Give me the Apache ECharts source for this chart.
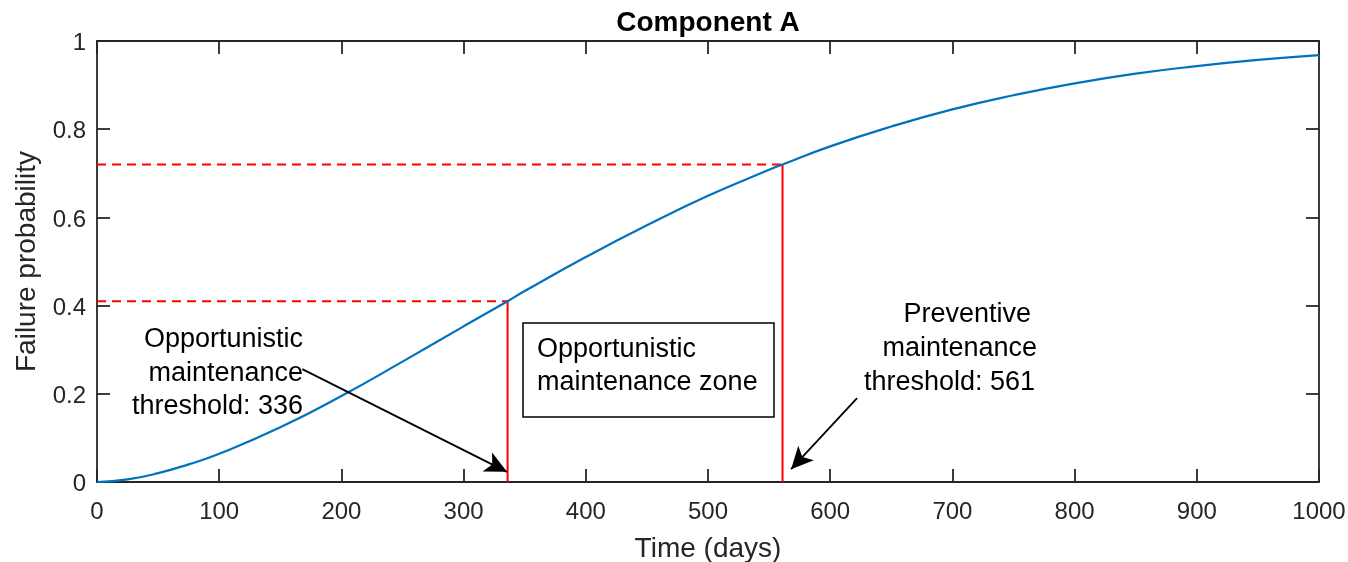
<!DOCTYPE html>
<html>
<head>
<meta charset="utf-8">
<script src="https://cdn.jsdelivr.net/npm/echarts@6/dist/echarts.min.js"></script>
<style>
  html, body { margin: 0; padding: 0; background: #fff; }
  #chart { width: 1348px; height: 562px; }
</style>
</head>
<body>
<div id="chart"></div>
<script>
// failure probability curve
const days = [0, 25, 50, 75, 100, 150, 200, 250, 300, 336, 350, 400, 450, 500, 550, 561, 600, 650, 700, 750, 800, 850, 900, 950, 1000];
const failureProb = [0, 0.006, 0.020, 0.040, 0.064, 0.124, 0.195, 0.273, 0.353, 0.41, 0.433, 0.510, 0.582, 0.649, 0.708, 0.72, 0.761, 0.806, 0.845, 0.877, 0.904, 0.926, 0.943, 0.957, 0.968];

// thresholds: opportunistic, preventive
const thresholdDays = [336, 561];
const thresholdProb = [0.41, 0.72];

// annotation arrows [from, to] in data coords
const arrows = [
  [[168, 0.256], [335.5, 0.023]],
  [[622, 0.19], [568, 0.029]]
];

const FONT = '"Liberation Sans", Arial, Helvetica, sans-serif';
const AXIS_COLOR = '#262626';

const chart = echarts.init(document.getElementById('chart'));

const axisCommon = {
  type: 'value',
  axisLine: { show: true, onZero: false, lineStyle: { color: AXIS_COLOR, width: 1.8 } },
  axisTick: { show: true, inside: true, length: 13, lineStyle: { color: AXIS_COLOR, width: 1.8 } },
  splitLine: { show: false }
};

const series = [];

// dashed horizontal guides and solid vertical threshold lines
thresholdDays.forEach((d, i) => {
  const p = thresholdProb[i];
  series.push({
    type: 'line',
    data: [[0, p], [d, p]],
    showSymbol: false,
    silent: true,
    lineStyle: { color: '#ff0000', width: 2, type: [9, 6] }
  });
  series.push({
    type: 'line',
    data: [[d, 0], [d, p]],
    showSymbol: false,
    silent: true,
    lineStyle: { color: '#ff0000', width: 2 }
  });
});

series.push({
  name: 'Component A',
  type: 'line',
  data: days.map((d, i) => [d, failureProb[i]]),
  smooth: true,
  showSymbol: false,
  silent: true,
  lineStyle: { color: '#0072BD', width: 2.2 },
  markLine: {
    silent: true,
    symbol: ['none', 'arrow'],
    symbolSize: [16, 22],
    label: { show: false },
    lineStyle: { color: '#000', width: 1.8, type: 'solid' },
    data: arrows.map(a => [{ coord: a[0] }, { coord: a[1] }])
  }
});

const textStyle = (extra) => Object.assign({
  fill: '#000',
  font: '27px ' + FONT
}, extra);

const plain = v => String(v);

chart.setOption({
  animation: false,
  title: {
    text: 'Component A',
    left: 708,
    top: 9,
    padding: 0,
    textAlign: 'center',
    textStyle: { fontFamily: FONT, fontSize: 28, fontWeight: 'bold', color: '#000' }
  },
  grid: { left: 97, right: 29, top: 41, bottom: 80, containLabel: false, outerBoundsMode: 'none' },
  xAxis: [
    Object.assign({}, axisCommon, {
      min: 0, max: 1000, interval: 100,
      position: 'bottom',
      name: 'Time (days)',
      nameLocation: 'middle',
      nameGap: 53,
      nameTextStyle: { fontFamily: FONT, fontSize: 28, color: AXIS_COLOR },
      axisLabel: { margin: 18, fontFamily: FONT, fontSize: 24, color: AXIS_COLOR, formatter: plain }
    }),
    Object.assign({}, axisCommon, {
      min: 0, max: 1000, interval: 100,
      position: 'top',
      axisLabel: { show: false }
    })
  ],
  yAxis: [
    Object.assign({}, axisCommon, {
      min: 0, max: 1, interval: 0.2,
      position: 'left',
      name: 'Failure probability',
      nameLocation: 'middle',
      nameGap: 54,
      nameTextStyle: { fontFamily: FONT, fontSize: 28, color: AXIS_COLOR },
      axisLabel: { margin: 11, fontFamily: FONT, fontSize: 24, color: AXIS_COLOR, formatter: plain, verticalAlign: 'top', lineHeight: 5 }
    }),
    Object.assign({}, axisCommon, {
      min: 0, max: 1, interval: 0.2,
      position: 'right',
      axisLabel: { show: false }
    })
  ],
  series: series,
  graphic: [
    {
      type: 'text', x: 303, y: 323,
      style: textStyle({ text: 'Opportunistic\nmaintenance\nthreshold: 336', align: 'right', verticalAlign: 'top', lineHeight: 33.5 })
    },
    {
      type: 'rect',
      shape: { x: 523, y: 323, width: 251, height: 94 },
      style: { fill: '#fff', stroke: '#000', lineWidth: 1.5 }
    },
    {
      type: 'text', x: 537, y: 333,
      style: textStyle({ text: 'Opportunistic\nmaintenance zone', align: 'left', verticalAlign: 'top', lineHeight: 33 })
    },
    { type: 'text', x: 1031, y: 315, style: textStyle({ text: 'Preventive', align: 'right', verticalAlign: 'middle' }) },
    { type: 'text', x: 1037, y: 349, style: textStyle({ text: 'maintenance', align: 'right', verticalAlign: 'middle' }) },
    { type: 'text', x: 1035, y: 383, style: textStyle({ text: 'threshold: 561', align: 'right', verticalAlign: 'middle' }) }
  ]
});
</script>
</body>
</html>
